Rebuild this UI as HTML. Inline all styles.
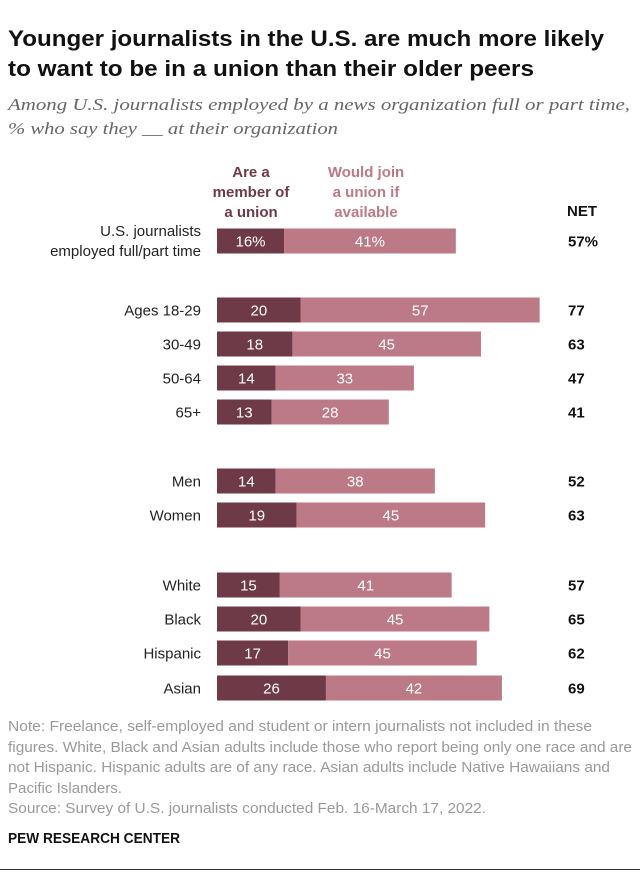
<!DOCTYPE html>
<html><head><meta charset="utf-8"><style>
body{margin:0;background:#fff}
svg{display:block}
text{font-family:"Liberation Sans",sans-serif}
</style></head><body>
<svg id="c" width="640" height="873" viewBox="0 0 640 873">
<text x="8" y="46" font-size="22" font-weight="bold" fill="#111" textLength="596" lengthAdjust="spacingAndGlyphs">Younger journalists in the U.S. are much more likely</text>
<text x="8" y="76" font-size="22" font-weight="bold" fill="#111" textLength="526" lengthAdjust="spacingAndGlyphs">to want to be in a union than their older peers</text>
<text x="8" y="110" font-size="16.5" font-style="italic" fill="#666" style="font-family:'Liberation Serif',serif" textLength="622" lengthAdjust="spacingAndGlyphs">Among U.S. journalists employed by a news organization full or part time,</text>
<text x="8" y="134" font-size="16.5" font-style="italic" fill="#666" style="font-family:'Liberation Serif',serif" textLength="330" lengthAdjust="spacingAndGlyphs">% who say they __ at their organization</text>
<g font-size="15" font-weight="bold" fill="#6f3a47" text-anchor="middle">
<text x="251" y="177">Are a</text><text x="251" y="197">member of</text><text x="251" y="217">a union</text></g>
<g font-size="15" font-weight="bold" fill="#bb7a85" text-anchor="middle">
<text x="366" y="177">Would join</text><text x="366" y="197">a union if</text><text x="366" y="217">available</text></g>
<text x="567" y="216" font-size="15" font-weight="bold" fill="#111">NET</text>
<g id="bars"></g>
<g font-size="14.5" fill="#999">
<text x="8" y="731" textLength="584" lengthAdjust="spacingAndGlyphs">Note: Freelance, self-employed and student or intern journalists not included in these</text>
<text x="8" y="752" textLength="624" lengthAdjust="spacingAndGlyphs">figures. White, Black and Asian adults include those who report being only one race and are</text>
<text x="8" y="772" textLength="602" lengthAdjust="spacingAndGlyphs">not Hispanic. Hispanic adults are of any race. Asian adults include Native Hawaiians and</text>
<text x="8" y="793" textLength="114" lengthAdjust="spacingAndGlyphs">Pacific Islanders.</text>
<text x="8" y="813" textLength="478" lengthAdjust="spacingAndGlyphs">Source: Survey of U.S. journalists conducted Feb. 16-March 17, 2022.</text>
</g>
<text x="8" y="843" font-size="14.5" font-weight="bold" fill="#111" textLength="172" lengthAdjust="spacingAndGlyphs">PEW RESEARCH CENTER</text>
<line x1="0" y1="869.5" x2="640" y2="869.5" stroke="#333" stroke-width="1"/>
</svg>
<script>
const categories=["U.S. journalists|employed full/part time","Ages 18-29","30-49","50-64","65+","Men","Women","White","Black","Hispanic","Asian"];
const member=[16,20,18,14,13,14,19,15,20,17,26];
const wouldJoin=[41,57,45,33,28,38,45,41,45,45,42];
const net=[57,77,63,47,41,52,63,57,65,62,69];
const rowY=[241,310,344,378,412,481,515,585,619,653,688];
const NS="http://www.w3.org/2000/svg";
const x0=217,k=4.19;
function x(v){return x0+v*k;}
const g=document.getElementById('bars');
function mk(t,a){const e=document.createElementNS(NS,t);for(const n in a)e.setAttribute(n,a[n]);g.appendChild(e);return e;}
categories.forEach((c,i)=>{
  const y=rowY[i],h=25,pct=i===0?'%':'';
  const r1=mk('rect',{x:x(0),y:y-12.5,width:x(member[i])-x(0),height:h,fill:'#6f3a47'});
  
  
  const r2=mk('rect',{x:x(member[i]),y:y-12.5,width:x(member[i]+wouldJoin[i])-x(member[i]),height:h,fill:'#bb7a85'});
  
  
  const t1=mk('text',{x:(x(0)+x(member[i]))/2,y:y+5.5,'font-size':15,fill:'#fff','text-anchor':'middle'});
  t1.textContent=member[i]+pct;
  
  
  const t2=mk('text',{x:(x(member[i])+x(member[i]+wouldJoin[i]))/2,y:y+5.5,'font-size':15,fill:'#fff','text-anchor':'middle'});
  t2.textContent=wouldJoin[i]+pct;
  
  
  const t3=mk('text',{x:568,y:y+5.5,'font-size':15,'font-weight':'bold',fill:'#111'});
  t3.textContent=net[i]+pct;
  
  
  const parts=c.split('|');
  parts.forEach((p,j)=>{
    const yy=parts.length>1?y-5+j*20:y+5.5;
    const l=mk('text',{x:201,y:yy,'font-size':15,fill:'#222','text-anchor':'end'});
    l.textContent=p;
    
    
  });
});
</script>
</body></html>
